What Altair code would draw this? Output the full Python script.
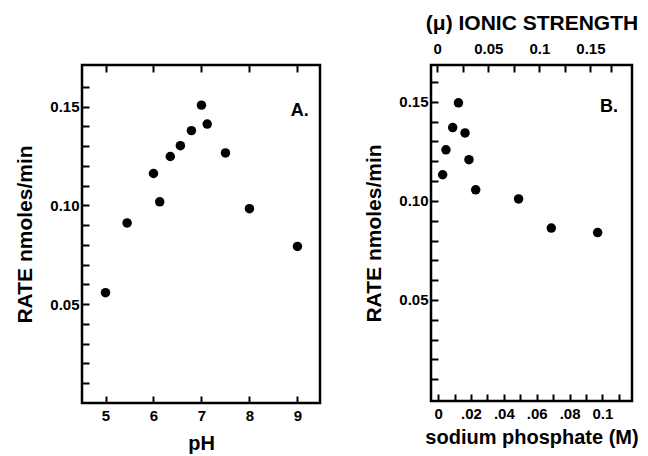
import altair as alt
import pandas as pd

# ---------------- data ----------------
# Panel A: rate vs pH
ph = [5.0, 5.45, 6.0, 6.13, 6.35, 6.56, 6.79, 7.0, 7.12, 7.5, 8.0, 9.0]
rate_a = [0.0558, 0.0911, 0.1161, 0.1018, 0.1247, 0.1302, 0.1378, 0.1507,
          0.1411, 0.1265, 0.0983, 0.0792]

# Panel B: rate vs sodium phosphate (M)
phosphate = [0.0028, 0.0048, 0.0089, 0.0124, 0.0164, 0.0188, 0.0229,
             0.049, 0.0689, 0.0971]
rate_b = [0.1132, 0.1258, 0.1370, 0.1495, 0.1343, 0.1208, 0.1056,
          0.1010, 0.0863, 0.0840]

# axis tick values (ticks everywhere, labels only on some)
ph_ticks = [5, 6, 7, 8, 9]
rate_ticks_a = [0.01, 0.02, 0.03, 0.04, 0.05, 0.06, 0.07, 0.08, 0.09, 0.10,
                0.11, 0.12, 0.13, 0.14, 0.15, 0.16]
rate_ticks_b = [0.01, 0.02, 0.03, 0.04, 0.05, 0.06, 0.07, 0.08, 0.09, 0.10,
                0.11, 0.12, 0.13, 0.14, 0.15, 0.16]
phos_ticks = [0.0, 0.01, 0.02, 0.03, 0.04, 0.05, 0.06, 0.07, 0.08, 0.09,
              0.10, 0.11]
mu_ticks = [0.0, 0.025, 0.05, 0.075, 0.10, 0.125, 0.15, 0.17]

FONT = "Liberation Sans"

# ---------------- layout constants ----------------
W_A, H_A = 238, 338
W_B, H_B = 201, 336
xA_dom = [4.51, 9.47]
yA_dom = [0.0, 0.171]
xB_dom = [-0.0043, 0.118]
yB_dom = [-0.001, 0.1686]
mu_dom = [-0.0061, 0.1907]
TICK = 7
INWARD = alt.ExprRef(expr=f"-{TICK}")   # ticks pointing into the frame

# label expressions (labels only at some tick values)
RATE_LBL = "indexof([5,10,15], round(datum.value*100)) >= 0 ? format(datum.value, '.2f') : ''"
PHOS_LBL = ("round(datum.value*100) == 0 ? '0' : round(datum.value*100) == 10 ? '0.1' : "
            "(round(datum.value*100) % 2 == 0 ? replace(format(datum.value, '.2f'), '0.', '.') : '')")
MU_LBL = "indexof([0,50,100,150], round(datum.value*1000)) >= 0 ? format(datum.value, '~g') : ''"


def sc(dom):
    return alt.Scale(domain=dom, nice=False, zero=False)


dfA = pd.DataFrame({"pH": ph, "rate": rate_a})
dfB = pd.DataFrame({"phosphate": phosphate, "rate": rate_b})

# ---------------- Panel A ----------------
ptsA = alt.Chart(dfA).mark_circle(size=90, color="black", opacity=1).encode(
    x=alt.X("pH:Q", scale=sc(xA_dom),
            axis=alt.Axis(orient="bottom", values=ph_ticks, format="d",
                          title="pH", ticks=True, tickSize=INWARD,
                          domain=False, grid=False, labelPadding=5 + TICK,
                          titlePadding=10, labelOverlap=False)),
    y=alt.Y("rate:Q", scale=sc(yA_dom),
            axis=alt.Axis(orient="left", values=rate_ticks_a, labelExpr=RATE_LBL,
                          title="RATE nmoles/min", ticks=True, tickSize=INWARD,
                          domain=False, grid=False, labelPadding=3 + TICK,
                          titlePadding=14, titleFontSize=21,
                          labelOverlap=False)),
)

# top frame of panel A: ticks only
topA = alt.Chart(dfA).mark_point(opacity=0).encode(
    x=alt.X("pH:Q", scale=sc(xA_dom),
            axis=alt.Axis(orient="top", values=ph_ticks, labelExpr="''",
                          title=" ", ticks=True, tickSize=INWARD,
                          domain=False, grid=False, labelOverlap=False)),
    y=alt.Y("rate:Q", scale=sc(yA_dom), axis=None),
)

txtA = alt.Chart(dfA).mark_text(
    font=FONT, fontSize=18, fontWeight="bold", color="black"
).encode(
    x=alt.X("xx:Q", scale=sc(xA_dom), axis=None),
    y=alt.Y("yy:Q", scale=sc(yA_dom), axis=None),
    text="t:N",
).transform_aggregate(n="count()").transform_calculate(
    xx="9.05", yy="0.1478", t="'A.'"
)

panelA = alt.layer(ptsA, topA, txtA).resolve_scale(
    x="independent"
).resolve_axis(
    x="independent", y="independent"
).properties(width=W_A, height=H_A)

# ---------------- Panel B ----------------
ptsB = alt.Chart(dfB).mark_circle(size=90, color="black", opacity=1).encode(
    x=alt.X("phosphate:Q", scale=sc(xB_dom),
            axis=alt.Axis(orient="bottom", values=phos_ticks, labelExpr=PHOS_LBL,
                          title="sodium phosphate (M)", ticks=True,
                          tickSize=INWARD, domain=False, grid=False,
                          labelPadding=5 + TICK, titlePadding=6,
                          labelOverlap=False)),
    y=alt.Y("rate:Q", scale=sc(yB_dom),
            axis=alt.Axis(orient="left", values=rate_ticks_b, labelExpr=RATE_LBL,
                          title="RATE nmoles/min", ticks=True, tickSize=INWARD,
                          domain=False, grid=False, labelPadding=3 + TICK,
                          titlePadding=14, titleFontSize=21,
                          labelOverlap=False)),
)

# ionic-strength scale (top axis) with its own x scale
muLab = alt.Chart(dfB).mark_point(opacity=0).encode(
    x=alt.X("phosphate:Q", scale=sc(mu_dom),
            axis=alt.Axis(orient="top", values=mu_ticks, labelExpr=MU_LBL,
                          title="(μ) IONIC STRENGTH", titleFontSize=21,
                          ticks=True, tickSize=INWARD, domain=False,
                          grid=False, labelPadding=9 + TICK, titlePadding=8,
                          labelOverlap=False)),
    y=alt.Y("rate:Q", scale=sc(yB_dom), axis=None),
)

txtB = alt.Chart(dfB).mark_text(
    font=FONT, fontSize=18, fontWeight="bold", color="black"
).encode(
    x=alt.X("xx:Q", scale=sc(xB_dom), axis=None),
    y=alt.Y("yy:Q", scale=sc(yB_dom), axis=None),
    text="t:N",
).transform_aggregate(n="count()").transform_calculate(
    xx="0.104", yy="0.1476", t="'B.'"
)

panelB = alt.layer(ptsB, muLab, txtB).resolve_scale(
    x="independent"
).resolve_axis(
    x="independent", y="independent"
).properties(width=W_B, height=H_B)

chart = alt.hconcat(
    panelA, panelB, spacing=111, bounds="flush",
    padding={"left": 5, "top": 2, "right": 0, "bottom": 0},
).configure(
    font=FONT
).configure_view(
    stroke="black", strokeWidth=2.5
).configure_axis(
    labelFont=FONT, titleFont=FONT, labelFontSize=15, labelFontWeight="bold",
    titleFontSize=20, titleFontWeight="bold", labelColor="black",
    titleColor="black", tickColor="black", tickWidth=2,
)

chart.save("out.html", embed_options={"renderer": "svg", "actions": False})
